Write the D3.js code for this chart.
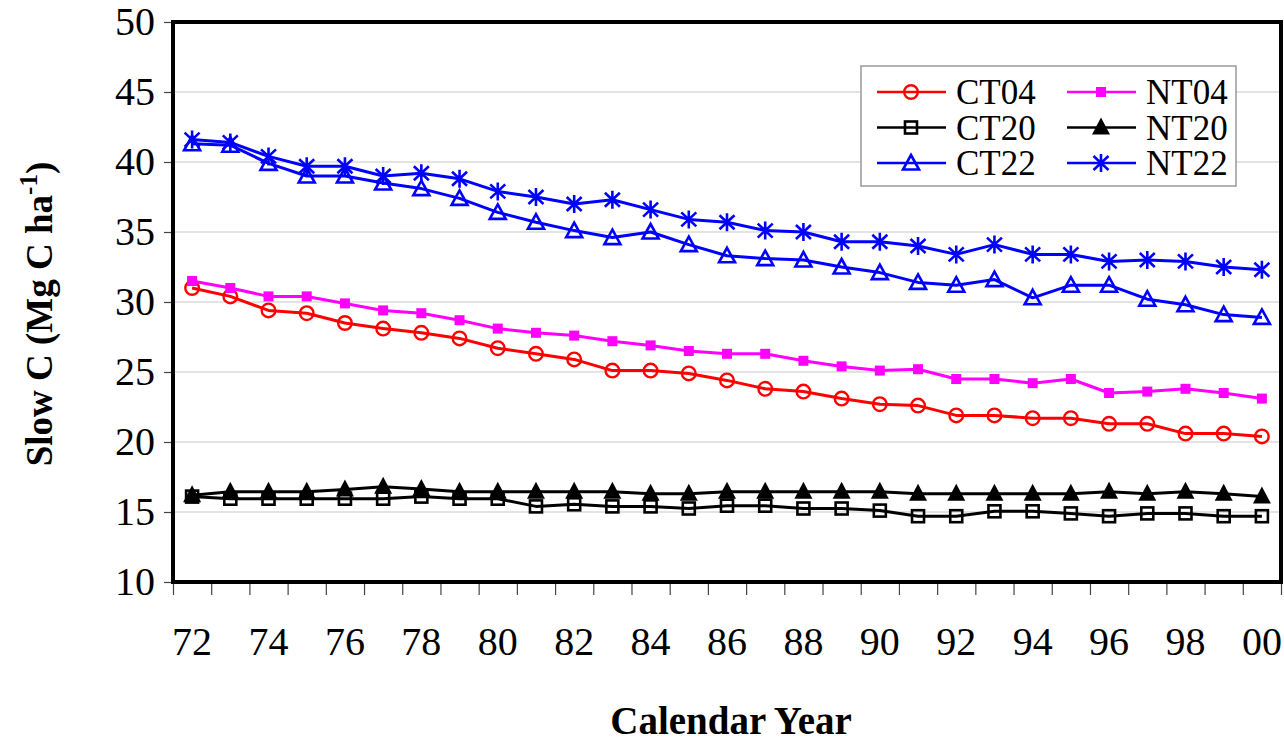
<!DOCTYPE html>
<html>
<head>
<meta charset="utf-8">
<script src="https://cdn.jsdelivr.net/npm/d3@7"></script>
<style>
  body { margin: 0; background: #fff; }
  svg text { font-family: "Liberation Serif", "Times New Roman", serif; }
</style>
</head>
<body>
<svg id="chart" width="1284" height="744"></svg>
<script>
  // calendar years (two-digit labels)
  var years = ['72','73','74','75','76','77','78','79','80','81','82','83','84','85',
               '86','87','88','89','90','91','92','93','94','95','96','97','98','99','00'];

  var ct04 = [31.0,30.4,29.4,29.2,28.5,28.1,27.8,27.4,26.7,26.3,25.9,25.1,25.1,24.9,
              24.4,23.8,23.6,23.1,22.7,22.6,21.9,21.9,21.7,21.7,21.3,21.3,20.6,20.6,20.4];
  var ct20 = [16.1,15.95,15.95,15.95,15.95,15.95,16.1,15.95,15.95,15.4,15.55,15.4,15.4,15.25,
              15.45,15.45,15.25,15.25,15.1,14.7,14.7,15.05,15.05,14.9,14.7,14.9,14.9,14.7,14.7];
  var ct22 = [41.3,41.2,39.9,39.0,39.0,38.5,38.1,37.4,36.4,35.7,35.1,34.6,35.0,34.1,
              33.3,33.1,33.0,32.5,32.1,31.4,31.2,31.6,30.3,31.2,31.2,30.2,29.8,29.1,28.9];
  var nt04 = [31.5,31.0,30.4,30.4,29.9,29.4,29.2,28.7,28.1,27.8,27.6,27.2,26.9,26.5,
              26.3,26.3,25.8,25.4,25.1,25.2,24.5,24.5,24.2,24.5,23.5,23.6,23.8,23.5,23.1];
  var nt20 = [16.2,16.45,16.45,16.45,16.6,16.8,16.65,16.45,16.45,16.45,16.45,16.45,16.3,16.3,
              16.45,16.45,16.45,16.45,16.45,16.3,16.3,16.3,16.3,16.3,16.45,16.3,16.45,16.3,16.1];
  var nt22 = [41.6,41.4,40.4,39.7,39.7,39.0,39.2,38.8,37.9,37.5,37.0,37.3,36.6,35.9,
              35.7,35.1,35.0,34.3,34.3,34.0,33.4,34.1,33.4,33.4,32.9,33.0,32.9,32.5,32.3];

  var yTicks = [10,15,20,25,30,35,40,45,50];

  var series = [
    {name: 'CT04', values: ct04, color: '#ff0000', marker: 'circle'},
    {name: 'CT20', values: ct20, color: '#000000', marker: 'square'},
    {name: 'CT22', values: ct22, color: '#0000ff', marker: 'triangle'},
    {name: 'NT04', values: nt04, color: '#ff00ff', marker: 'fsquare'},
    {name: 'NT20', values: nt20, color: '#000000', marker: 'ftriangle'},
    {name: 'NT22', values: nt22, color: '#0000ff', marker: 'star'}
  ];

  var svg = d3.select('#chart'),
      margin = {top: 22, right: 3, bottom: 162, left: 173},
      width = +svg.attr('width') - margin.left - margin.right,
      height = +svg.attr('height') - margin.top - margin.bottom,
      g = svg.append('g').attr('transform', 'translate(' + margin.left + ',' + margin.top + ')');

  var x = d3.scaleBand().domain(years).range([0, width]).padding(0);
  var xEdge = d3.scaleLinear().domain([0, years.length]).range([0, width]);
  var y = d3.scaleLinear().domain([10, 50]).range([height, 0]);

  // gridlines
  g.append('g')
      .attr('class', 'grid')
      .selectAll('line')
      .data(yTicks.slice(1, -1))
      .enter().append('line')
      .attr('x1', 0).attr('x2', width)
      .attr('y1', function (d) { return y(d); })
      .attr('y2', function (d) { return y(d); })
      .attr('stroke', '#c8c8c8')
      .attr('stroke-width', 1.2);

  // y axis
  var yAxis = g.append('g')
      .call(d3.axisLeft(y).tickValues(yTicks).tickSize(9).tickPadding(9));
  yAxis.select('.domain').remove();
  yAxis.selectAll('line').attr('stroke', '#444').attr('stroke-width', 1.2);
  yAxis.selectAll('text')
      .attr('font-size', 40)
      .attr('fill', '#000');

  // x axis: tick marks on category edges
  var xTickAxis = g.append('g')
      .attr('transform', 'translate(0,' + height + ')')
      .call(d3.axisBottom(xEdge).tickValues(d3.range(years.length + 1)).tickSize(13).tickFormat(''));
  xTickAxis.select('.domain').remove();
  xTickAxis.selectAll('line').attr('stroke', '#444').attr('stroke-width', 1.2);

  // x axis: labels every second year
  var xLabelAxis = g.append('g')
      .attr('transform', 'translate(0,' + height + ')')
      .call(d3.axisBottom(x).tickValues(years.filter(function (d, i) { return i % 2 === 0; }))
            .tickSize(0).tickPadding(45));
  xLabelAxis.select('.domain').remove();
  xLabelAxis.selectAll('text')
      .attr('font-size', 40)
      .attr('fill', '#000');

  function drawMarker(sel, type, color) {
    if (type === 'circle') {
      sel.append('circle').attr('r', 6.8)
        .attr('fill', 'none').attr('stroke', color).attr('stroke-width', 2.4);
    } else if (type === 'square') {
      sel.append('rect').attr('x', -6).attr('y', -6)
        .attr('width', 12).attr('height', 12)
        .attr('fill', 'none').attr('stroke', color).attr('stroke-width', 2.6);
    } else if (type === 'fsquare') {
      sel.append('rect').attr('x', -5).attr('y', -5)
        .attr('width', 10).attr('height', 10)
        .attr('fill', color);
    } else if (type === 'triangle') {
      sel.append('path').attr('d', d3.line()([[0, -8], [8, 6.5], [-8, 6.5]]) + 'Z')
        .attr('fill', 'none').attr('stroke', color).attr('stroke-width', 2.6);
    } else if (type === 'ftriangle') {
      sel.append('path').attr('d', d3.line()([[0, -10], [9, 7], [-9, 7]]) + 'Z')
        .attr('fill', color);
    } else if (type === 'star') {
      sel.append('path')
        .attr('d', 'M0,-9L0,9M-7.5,-7L7.5,7M7.5,-7L-7.5,7')
        .attr('fill', 'none').attr('stroke', color).attr('stroke-width', 2.6);
    }
  }

  var line = d3.line()
      .x(function (d, i) { return x(years[i]) + x.bandwidth() / 2; })
      .y(function (d) { return y(d); });

  series.forEach(function (s) {
    var sg = g.append('g').attr('class', 'series');
    sg.append('path')
        .datum(s.values)
        .attr('fill', 'none')
        .attr('stroke', s.color)
        .attr('stroke-width', 3)
        .attr('stroke-linejoin', 'round')
        .attr('d', line);
    sg.selectAll('g.pt')
        .data(s.values)
        .enter().append('g')
        .attr('class', 'pt')
        .attr('transform', function (d, i) {
          return 'translate(' + (x(years[i]) + x.bandwidth() / 2) + ',' + y(d) + ')';
        })
        .each(function () { drawMarker(d3.select(this), s.marker, s.color); });
  });

  // plot frame
  g.append('rect')
      .attr('width', width)
      .attr('height', height)
      .attr('fill', 'none')
      .attr('stroke', '#000')
      .attr('stroke-width', 4);

  // legend
  var legend = svg.append('g').attr('transform', 'translate(861,66)');
  legend.append('rect')
      .attr('width', 375).attr('height', 120)
      .attr('fill', '#fff').attr('stroke', '#999').attr('stroke-width', 1.5);
  series.forEach(function (s, i) {
    var col = Math.floor(i / 3), row = i % 3;
    var lg = legend.append('g')
        .attr('transform', 'translate(' + (16 + col * 190) + ',' + (26 + row * 35.5) + ')');
    lg.append('line').attr('x1', 0).attr('x2', 69)
        .attr('stroke', s.color).attr('stroke-width', 2.6);
    drawMarker(lg.append('g').attr('transform', 'translate(34,0)'), s.marker, s.color);
    lg.append('text')
        .attr('x', 79).attr('y', 12)
        .attr('font-size', 35)
        .text(s.name);
  });

  // axis titles
  svg.append('text')
      .attr('x', margin.left + width / 2 + 4)
      .attr('y', 734)
      .attr('text-anchor', 'middle')
      .attr('font-size', 39)
      .attr('font-weight', 'bold')
      .text('Calendar Year');

  var yTitle = svg.append('text')
      .attr('transform', 'translate(52,' + (margin.top + height / 2 + 12) + ') rotate(-90)')
      .attr('text-anchor', 'middle')
      .attr('font-size', 37)
      .attr('font-weight', 'bold');
  yTitle.append('tspan').text('Slow C (Mg C ha');
  yTitle.append('tspan').attr('dy', -15).attr('font-size', 25).text('-1');
  yTitle.append('tspan').attr('dy', 15).text(')');
</script>
</body>
</html>
